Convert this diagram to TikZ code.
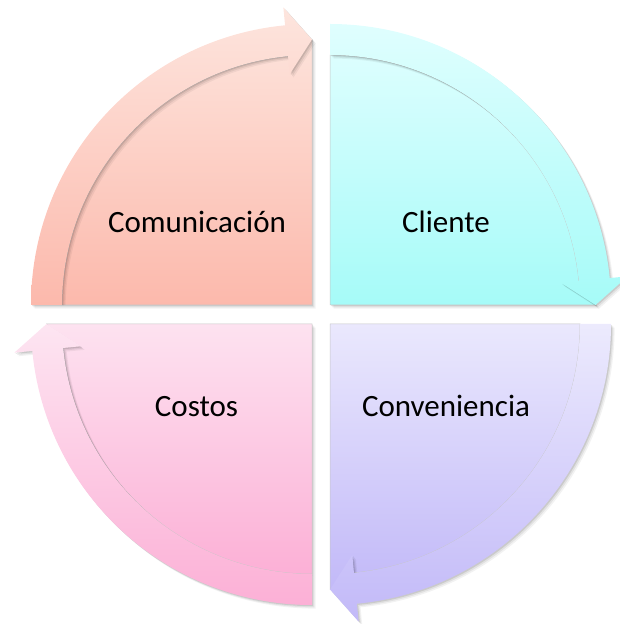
\documentclass[tikz,border=0pt]{standalone}
\usepackage{fontspec}
\setmainfont{Carlito}
\definecolor{salT}{HTML}{FDE2DA}
\definecolor{salB}{HTML}{FCB9AC}
\definecolor{cyaT}{HTML}{DCFEFE}
\definecolor{cyaB}{HTML}{A6FBF8}
\definecolor{pinT}{HTML}{FDE2F0}
\definecolor{pinB}{HTML}{FCB0D6}
\definecolor{lavT}{HTML}{EAE8FD}
\definecolor{lavB}{HTML}{C2B9F8}
\tikzset{
  softshadow/.style={
    preaction={fill=black,opacity=0.10,transform canvas={shift={(1.2pt,-1.2pt)}}},
    preaction={fill=black,opacity=0.07,transform canvas={shift={(2.4pt,-2.4pt)}}},
    preaction={fill=black,opacity=0.05,transform canvas={shift={(3.6pt,-3.6pt)}}}},
  lbl/.style={font=\fontsize{31}{37}\selectfont, anchor=base, inner sep=0pt}
}
% #1 rotation offset, #2 corner, #3 top colour, #4 bottom colour
\newcommand\quadpiece[4]{%
\begin{scope}[shift={#2}]
  \shade[top color=#3, bottom color=#4, softshadow, draw=black!22, line width=0.5pt]
    (0,0) -- ({#1+180}:250) arc[start angle={#1+180}, end angle={#1+95.5}, radius=250]
    -- ({#1+90}:265.5) -- cycle;
  \shade[top color=#3!90!white, bottom color=#4, softshadow]
    ({#1+180}:281) arc[start angle={#1+180}, end angle={#1+95.5}, radius=281]
    -- ({#1+95.5}:299) -- ({#1+90}:265.5) -- ({#1+95.5}:232) -- ({#1+95.5}:250)
    arc[start angle={#1+95.5}, end angle={#1+180}, radius=250] -- cycle;
\end{scope}}
\begin{document}
\begin{tikzpicture}[x=1pt,y=1pt]
\useasboundingbox (0,0) rectangle (620,624);
\quadpiece{0}{(312,319)}{salT}{salB}
\quadpiece{-90}{(330,319)}{cyaT}{cyaB}
\quadpiece{-180}{(330,300)}{lavT}{lavB}
\quadpiece{90}{(312,300)}{pinT}{pinB}
\node[lbl] (comunicacion) at (197,391) {Comunicación};
\node[lbl] (cliente) at (446,391) {Cliente};
\node[lbl] (costos) at (196.5,207) {Costos};
\node[lbl] (conveniencia) at (446,207) {Conveniencia};
\end{tikzpicture}
\end{document}
